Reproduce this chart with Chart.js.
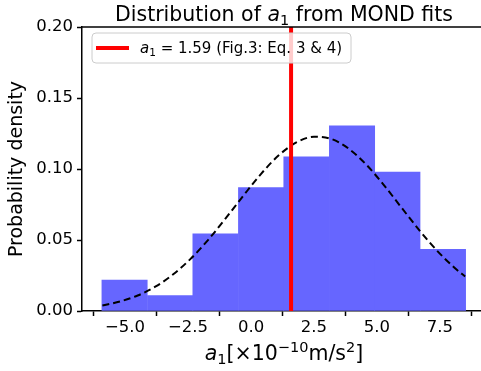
<!DOCTYPE html>
<html>
<head>
<meta charset="utf-8">
<script src="https://cdn.jsdelivr.net/npm/chart.js@4.4.0/dist/chart.umd.min.js"></script>
<style>
  html, body { margin: 0; padding: 0; background: #fff; }
</style>
</head>
<body>
<canvas id="myChart" width="481" height="371"></canvas>
<script>
// histogram (density), bin centres
var binCenters = [-5.02, -3.21, -1.41, 0.40, 2.20, 4.01, 5.81, 7.62];
var binDensity = [0.0217, 0.0109, 0.0543, 0.0869, 0.1086, 0.1304, 0.0978, 0.0435];

// dashed curve
var curveX = [-5.9, -5.2, -4.5, -3.8, -3.1, -2.4, -1.7, -1.0, -0.3, 0.4, 1.1, 1.8, 2.5, 3.2, 3.9, 4.6, 5.3, 6.0, 6.7, 7.4, 8.1, 8.5];
var curveY = [0.0039, 0.0067, 0.0109, 0.0171, 0.0257, 0.0367, 0.0501, 0.0654, 0.0813, 0.0966, 0.1096, 0.1187, 0.1227, 0.1211, 0.1140, 0.1026, 0.0881, 0.0722, 0.0565, 0.0422, 0.0301, 0.0243];

var a1Value = 1.59;
var a1Label = 'a1 = 1.59 (Fig.3: Eq. 3 & 4)';

var xTicks = [-5.0, -2.5, 0.0, 2.5, 5.0, 7.5];
var yTicks = [0.00, 0.05, 0.10, 0.15, 0.20];

var yTitle = 'Probability density';

// rich text pieces: [text, size, italic, baseline shift]
var titleParts = [['Distribution of ', 20.5, false, 0], ['a', 20.5, true, 0], ['1', 14.5, false, 4], [' from MOND fits', 20.5, false, 0]];
var xTitleParts = [['a', 20.5, true, 0], ['1', 14.5, false, 4], ['[\u00d710', 20.5, false, 0], ['\u221210', 14.5, false, -8], ['m/s', 20.5, false, 0], ['2', 14.5, false, -8], [']', 20.5, false, 0]];
var legendParts = [['a', 15, true, 0], ['1', 10.5, false, 3], [' = 1.59 (Fig.3: Eq. 3 & 4)', 15, false, 0]];

Chart.defaults.font.family = "'DejaVu Sans', sans-serif";
Chart.defaults.color = '#000';

function fontOf(p){ return (p[2] ? 'italic ' : '') + p[1] + "px 'DejaVu Sans'"; }

function drawRich(ctx, parts, x, y, align){
  var total = 0;
  parts.forEach(function(p){ ctx.font = fontOf(p); total += ctx.measureText(p[0]).width; });
  var cx = align === 'center' ? x - total / 2 : x;
  ctx.textAlign = 'left';
  ctx.textBaseline = 'alphabetic';
  parts.forEach(function(p){
    ctx.font = fontOf(p);
    ctx.fillText(p[0], cx, y + p[3]);
    cx += ctx.measureText(p[0]).width;
  });
}

var boxPlugin = {
  id: 'boxPlugin',
  afterDraw: function(chart){
    var ctx = chart.ctx, a = chart.chartArea;
    ctx.save();
    // top spine (right one falls outside the picture)
    ctx.strokeStyle = '#000';
    ctx.lineWidth = 1.5;
    ctx.beginPath();
    ctx.moveTo(a.left, a.top);
    ctx.lineTo(a.right, a.top);
    ctx.stroke();
    ctx.fillStyle = '#000';
    // title, centred on the (wider) axes box
    drawRich(ctx, titleParts, 284, 21, 'center');
    // x axis title
    drawRich(ctx, xTitleParts, 284, 360, 'center');
    // legend
    var lx = 92, ly = 33, lw = 259, lh = 30;
    ctx.beginPath();
    ctx.roundRect(lx, ly, lw, lh, 4);
    ctx.fillStyle = 'rgba(255,255,255,0.8)';
    ctx.fill();
    ctx.strokeStyle = '#cccccc';
    ctx.lineWidth = 1;
    ctx.stroke();
    var ds = chart.data.datasets[2];
    ctx.strokeStyle = ds.borderColor;
    ctx.lineWidth = 4;
    ctx.beginPath();
    ctx.moveTo(lx + 4, ly + lh / 2);
    ctx.lineTo(lx + 37, ly + lh / 2);
    ctx.stroke();
    ctx.fillStyle = '#000';
    drawRich(ctx, legendParts, lx + 48, ly + lh / 2 + 5, 'left');
    ctx.restore();
  }
};

var ctx = document.getElementById('myChart');
var myChart = new Chart(ctx, {
  type: 'bar',
  data: {
    datasets: [
      {
        type: 'bar',
        label: 'hist',
        data: binCenters.map(function(x, i){ return {x: x, y: binDensity[i]}; }),
        backgroundColor: '#6666ff',
        borderWidth: 0,
        barPercentage: 1.0,
        categoryPercentage: 1.0,
        order: 3
      },
      {
        type: 'line',
        label: 'fit',
        data: curveX.map(function(x, i){ return {x: x, y: curveY[i]}; }),
        borderColor: '#000',
        borderWidth: 2,
        borderDash: [7, 4],
        pointRadius: 0,
        fill: false,
        cubicInterpolationMode: 'monotone',
        order: 2
      },
      {
        type: 'line',
        label: a1Label,
        data: [{x: a1Value, y: 0}, {x: a1Value, y: 0.2}],
        borderColor: '#ff0000',
        borderWidth: 4,
        pointRadius: 0,
        fill: false,
        order: 1
      }
    ]
  },
  options: {
    responsive: false,
    animation: false,
    layout: { padding: { top: 27, right: 0, left: 0, bottom: 0 } },
    plugins: {
      legend: { display: false },
      title: { display: false },
      tooltip: { enabled: false }
    },
    scales: {
      x: {
        type: 'linear',
        min: -6.71,
        max: 9.13,
        offset: false,
        afterBuildTicks: function(scale){ scale.ticks = xTicks.map(function(v){ return {value: v}; }); },
        afterFit: function(scale){ scale.height = 60; scale.paddingLeft = 0; scale.paddingRight = 0; },
        ticks: {
          font: { size: 16.5 },
          padding: 2,
          maxRotation: 0,
          callback: function(v){ return (v < 0 ? '\u2212' : '') + Math.abs(v).toFixed(1); }
        },
        grid: { drawOnChartArea: false, drawTicks: true, tickLength: 5, tickWidth: 1.5, color: '#000' },
        border: { display: true, color: '#000', width: 1.5 }
      },
      y: {
        min: 0,
        max: 0.2,
        afterBuildTicks: function(scale){ scale.ticks = yTicks.map(function(v){ return {value: v}; }); },
        afterFit: function(scale){ scale.width = 82; scale.paddingTop = 0; scale.paddingBottom = 0; },
        ticks: {
          font: { size: 16.5 },
          padding: 4,
          callback: function(v){ return v.toFixed(2); }
        },
        grid: { drawOnChartArea: false, drawTicks: true, tickLength: 5, tickWidth: 1.5, color: '#000' },
        border: { display: true, color: '#000', width: 1.5 },
        title: { display: true, text: yTitle, font: { size: 19 }, padding: { top: 5.5, bottom: 0 } }
      }
    }
  },
  plugins: [boxPlugin]
});
</script>
</body>
</html>
